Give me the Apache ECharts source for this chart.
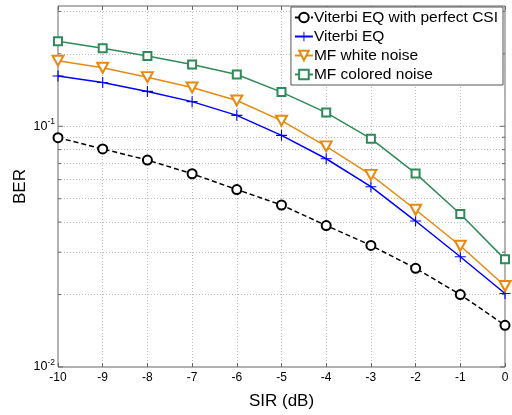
<!DOCTYPE html>
<html><head><meta charset="utf-8">
<script src="https://cdn.jsdelivr.net/npm/echarts@6/dist/echarts.min.js"></script>
<style>html,body{margin:0;padding:0;background:#fff}#c{width:512px;height:415px}</style>
</head><body><div id="c"></div>
<script>
const sir = [-10,-9,-8,-7,-6,-5,-4,-3,-2,-1,0];
const viterbiCSI = [0.0897,0.0805,0.0724,0.0635,0.0546,0.0471,0.0387,0.0320,0.0257,0.0200,0.0149];
const viterbiEQ  = [0.1618,0.1520,0.1396,0.1266,0.1110,0.0917,0.0733,0.0561,0.0404,0.0287,0.0202];
const mfWhite    = [0.1873,0.1750,0.1600,0.1450,0.1280,0.1055,0.0825,0.0628,0.0450,0.0319,0.0217];
const mfColored  = [0.2257,0.2110,0.1960,0.1805,0.1640,0.1387,0.1140,0.0888,0.0637,0.0432,0.0280];
const seriesNames = ['Viterbi EQ with perfect CSI','Viterbi EQ','MF white noise','MF colored noise'];
const yMin = 0.01, yMax = 0.316;
const yMajor = [0.01, 0.1];
const yMinor = [0.02,0.03,0.04,0.05,0.06,0.07,0.08,0.09,0.2,0.3];

const plus = 'path://M-0.1,-1 L0.1,-1 L0.1,-0.1 L1,-0.1 L1,0.1 L0.1,0.1 L0.1,1 L-0.1,1 L-0.1,0.1 L-1,0.1 L-1,-0.1 L-0.1,-0.1 Z';
const font = 'Liberation Sans, Arial, sans-serif';
const pair = a => sir.map((x,i)=>[x,a[i]]);

const chart = echarts.init(document.getElementById('c'));
const gridLines = [...yMajor.slice(1), ...yMinor].map(v=>({yAxis:v}));
chart.setOption({
  animation:false,
  backgroundColor:'#fff',
  grid:{left:58,right:7,top:6,bottom:38,show:true,borderColor:'#666',borderWidth:1},
  legend:{
    right:9, top:7, orient:'vertical', itemGap:2, itemWidth:18, itemHeight:12,
    backgroundColor:'#fff', borderColor:'#555', borderWidth:1, padding:[2,5,2,3],
    textStyle:{fontFamily:font,fontSize:15.5,lineHeight:17,color:'#000',padding:[0,0,0,-4]},
    data:seriesNames
  },
  xAxis:[{
    type:'value', min:-10, max:0, interval:1,
    axisLine:{show:false},
    axisTick:{show:true,inside:true,length:4,lineStyle:{color:'#666'}},
    axisLabel:{fontFamily:font,fontSize:12,color:'#000',margin:5},
    splitLine:{show:true,lineStyle:{color:'#bbb',type:[1,2],width:1}},
    name:'SIR (dB)', nameLocation:'middle', nameGap:26,
    nameTextStyle:{fontFamily:font,fontSize:17,color:'#000'}
  },{
    type:'value', min:-10, max:0, interval:1, position:'top',
    axisLine:{show:false},
    axisTick:{show:true,inside:true,length:4,lineStyle:{color:'#666'}},
    axisLabel:{show:false}, splitLine:{show:false}
  }],
  yAxis:[{
    type:'log', logBase:10, min:yMin, max:yMax,
    axisLine:{show:false},
    axisTick:{show:false},
    splitLine:{show:false},
    axisLabel:{
      fontFamily:font, color:'#000', margin:3, showMaxLabel:false,
      formatter:function(v){
        const e = Math.round(Math.log10(v));
        if (Math.abs(Math.log10(v)-e) > 1e-6) return '';
        return '{b|10}{s|' + e + '}';
      },
      rich:{
        b:{fontFamily:font,fontSize:12.5,color:'#000'},
        s:{fontFamily:font,fontSize:8.5,color:'#000',padding:[0,0,9,0]}
      }
    },
    name:'BER', nameLocation:'middle', nameGap:29, nameMoveOverlap:false,
    nameTextStyle:{fontFamily:font,fontSize:17,color:'#000'}
  }],
  series:[
    {
      type:'custom', silent:true, legendHoverLink:false, z:1,
      data:[...yMajor.map(v=>[v,1]), ...yMinor.map(v=>[v,0])],
      renderItem:function(params, api){
        const y = api.coord([-10, api.value(0)])[1];
        const xl = api.coord([-10, yMin])[0];
        const xr = api.coord([0, yMin])[0];
        const len = api.value(1) ? 5 : 3;
        return {type:'group', children:[
          {type:'line', shape:{x1:xl,y1:y,x2:xl+len,y2:y}, style:{stroke:'#666',lineWidth:1}},
          {type:'line', shape:{x1:xr,y1:y,x2:xr-len,y2:y}, style:{stroke:'#666',lineWidth:1}}
        ]};
      }
    },
    {
      name:seriesNames[0], type:'line', data:pair(viterbiCSI), z:5,
      symbol:'emptyCircle', symbolSize:9,
      lineStyle:{color:'#000',width:1.5,type:[5,3]},
      itemStyle:{color:'#000',borderWidth:1.6},
      markLine:{silent:true,symbol:'none',label:{show:false},
        lineStyle:{color:'#bbb',type:[1,2],width:1}, data:gridLines, z:1}
    },
    {
      name:seriesNames[1], type:'line', data:pair(viterbiEQ), z:5,
      symbol:plus, symbolSize:11,
      lineStyle:{color:'#0000ff',width:1.5},
      itemStyle:{color:'#0000ff'}
    },
    {
      name:seriesNames[2], type:'line', data:pair(mfWhite), z:5,
      symbol:'emptyTriangle', symbolRotate:180, symbolSize:[11,10],
      lineStyle:{color:'#e88a10',width:1.5},
      itemStyle:{color:'#e88a10',borderWidth:1.6}
    },
    {
      name:seriesNames[3], type:'line', data:pair(mfColored), z:5,
      symbol:'emptyRect', symbolSize:8,
      lineStyle:{color:'#2e8b57',width:1.5},
      itemStyle:{color:'#2e8b57',borderWidth:1.6}
    }
  ]
});
</script></body></html>
